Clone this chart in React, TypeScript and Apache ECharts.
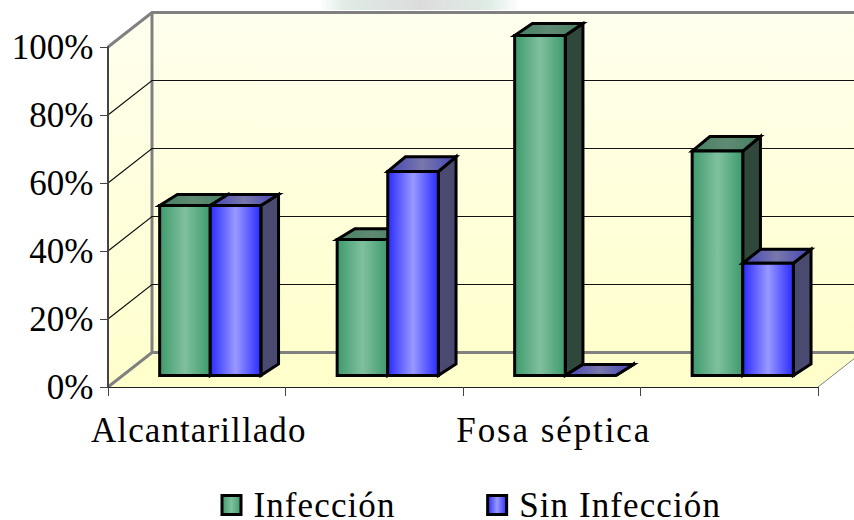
import React, { useEffect, useRef } from "react";
import * as echarts from "echarts";

const categories = ["Alcantarillado", "", "Fosa séptica", ""];
const infeccion = [50, 40, 100, 66];
const sinInfeccion = [50, 60, 0, 33];
const yTicks = [0, 20, 40, 60, 80, 100];
const FONT = "'Liberation Serif', 'Times New Roman', serif";

const hGrad = (edge: string, mid: string) =>
  new echarts.graphic.LinearGradient(0, 0, 1, 0, [
    { offset: 0, color: edge },
    { offset: 0.5, color: mid },
    { offset: 1, color: edge },
  ]);

const WALL_DX = 44;
const WALL_DY = -34.5;
const BAR_SHIFT_X = 13.5;
const BAR_SHIFT_Y = -11.5;
const BAR_DX = 17.7;
const BAR_DY = -11.5;
const BAR_FRAC = 0.285;
const BLACK = "#000";
// The depth of each bar's top face differs slightly per bar in the reference.
const greenTopDepth = [11, 10.7, 12, 14.6];
const blueTopDepth = [11, 14.7, 11, 14];

function wallItem(params: any, api: any) {
  const cs = params.coordSys;
  const v = api.value(0);
  const [, y] = api.coord([0, v]);
  const x0 = cs.x;
  const x1 = cs.x + cs.width;
  const children: any[] = [];
  if (params.dataIndex === 0) {
    const top = cs.y;
    const bottom = cs.y + cs.height;
    const wallFill = new echarts.graphic.LinearGradient(0, 0, 0, 1, [
      { offset: 0, color: "#FFFFEE" },
      { offset: 1, color: "#FFFFCC" },
    ]);
    children.push(
      {
        type: "polygon",
        shape: { points: [[x0, top], [x0 + WALL_DX, top + WALL_DY], [x0 + WALL_DX, bottom + WALL_DY], [x0, bottom]] },
        style: { fill: wallFill },
      },
      {
        type: "rect",
        shape: { x: x0 + WALL_DX, y: top + WALL_DY, width: x1 - x0, height: cs.height },
        style: { fill: wallFill },
      },
      {
        type: "polygon",
        shape: { points: [[x0, bottom], [x0 + WALL_DX, bottom + WALL_DY], [x1 + WALL_DX, bottom + WALL_DY], [x1, bottom]] },
        style: { fill: "#FFFFCC" },
      }
    );
  }
  const edge = v === 0 || v === 100;
  if (!edge) {
    children.push({
      type: "polyline",
      shape: { points: [[x0, y], [x0 + WALL_DX, y + WALL_DY], [x1 + WALL_DX, y + WALL_DY]] },
      style: { fill: "none", stroke: "#111", lineWidth: 1.2 },
    });
  } else {
    children.push({
      type: "polyline",
      shape: { points: [[x0, y], [x0 + WALL_DX, y + WALL_DY], [x1 + WALL_DX, y + WALL_DY]] },
      style: { fill: "none", stroke: "#808080", lineWidth: 3 },
    });
  }
  if (v === 0) {
    children.push({
      type: "line",
      shape: { x1: x1, y1: y, x2: x1 + WALL_DX, y2: y + WALL_DY },
      style: { stroke: "#808080", lineWidth: 1 },
    });
    children.push({
      type: "line",
      shape: { x1: x0 + WALL_DX, y1: cs.y + WALL_DY, x2: x0 + WALL_DX, y2: y + WALL_DY },
      style: { stroke: "#808080", lineWidth: 3 },
    });
  }
  return { type: "group", children };
}

function barItem(side: -1 | 1, front: any, top: any, right: any, topDepth: number[]) {
  return (_params: any, api: any) => {
    const cat = api.value(0);
    const [cx, yTop0] = api.coord([cat, api.value(1)]);
    const [, yBase0] = api.coord([cat, 0]);
    const w = api.size([1, 0])[0] * BAR_FRAC;
    const center = cx + BAR_SHIFT_X;
    const x0 = side < 0 ? center - w : center;
    const x1 = x0 + w;
    const yTop = yTop0 + BAR_SHIFT_Y;
    const yBase = yBase0 + BAR_SHIFT_Y;
    const tb = yTop - topDepth[cat];
    const line = { stroke: BLACK, lineWidth: 3, lineJoin: "miter" as const };
    return {
      type: "group",
      children: [
        {
          type: "polygon",
          shape: { points: [[x1, yTop], [x1 + BAR_DX, tb], [x1 + BAR_DX, yBase + BAR_DY], [x1, yBase]] },
          style: { fill: right, ...line },
        },
        {
          type: "polygon",
          shape: { points: [[x0, yTop], [x0 + BAR_DX, tb], [x1 + BAR_DX, tb], [x1, yTop]] },
          style: { fill: top, ...line },
        },
        {
          type: "rect",
          shape: { x: x0, y: yTop, width: w, height: yBase - yTop },
          style: { fill: front, ...line },
        },
      ],
    };
  };
}

export default function App() {
  const ref = useRef<HTMLDivElement>(null);
  useEffect(() => {
    const chart = echarts.init(ref.current!, undefined, { renderer: "svg" });
    const greenFront = hGrad("#3E9A6C", "#80C09F");
    const greenTop = hGrad("#44805F", "#5F8A74");
    const blueFront = hGrad("#2A2AFF", "#9999FF");
    const blueTop = hGrad("#4444B8", "#7878AA");
    chart.setOption({
      animation: false,
      textStyle: { fontFamily: FONT },
      grid: { left: 108, right: 36, top: 47, height: 340, containLabel: false },
      legend: {
        left: 220.5,
        top: 487.5,
        padding: 0,
        itemWidth: 19,
        itemHeight: 19,
        itemGap: 100.5,
        textStyle: { fontFamily: FONT, fontSize: 35, color: "#000", padding: [0, 0, 0, 7.5] },
        data: [
          { name: "Infección", icon: "rect", itemStyle: { color: hGrad("#3E9A6C", "#80C09F"), borderColor: BLACK, borderWidth: 3 } },
          { name: "Sin Infección", icon: "rect", itemStyle: { color: hGrad("#2A2AFF", "#9999FF"), borderColor: BLACK, borderWidth: 3 } },
        ],
      },
      xAxis: {
        type: "category",
        data: categories,
        z: 5,
        axisLine: { lineStyle: { color: "#222", width: 1 } },
        axisTick: { show: true, length: 9, lineStyle: { color: "#444", width: 1 } },
        axisLabel: { interval: 0, fontFamily: FONT, fontSize: 35, color: "#000", margin: 26, padding: [0, 0, 0, 4] },
      },
      yAxis: {
        type: "value",
        min: 0,
        max: 100,
        interval: 20,
        z: 5,
        axisLine: { show: true, lineStyle: { color: "#444", width: 2 } },
        axisTick: { show: true, length: 8, lineStyle: { color: "#444", width: 1 } },
        splitLine: { show: false },
        axisLabel: { formatter: "{value}%", fontFamily: FONT, fontSize: 35, color: "#000", margin: 14.5, padding: [4.5, 0, 0, 0] },
      },
      graphic: [
        {
          type: "rect",
          z: -1,
          shape: { x: 320, y: 0, width: 200, height: 10 },
          style: {
            fill: new echarts.graphic.LinearGradient(0, 0, 1, 0, [
              { offset: 0, color: "#ffffff" },
              { offset: 0.12, color: "#e0ece6" },
              { offset: 0.5, color: "#dcdcdc" },
              { offset: 0.85, color: "#e0ece6" },
              { offset: 1, color: "#ffffff" },
            ]),
          },
        },
      ],
      series: [
        {
          type: "custom",
          name: "walls",
          silent: true,
          z: 1,
          clip: false,
          renderItem: wallItem,
          encode: { y: 0 },
          data: yTicks.map((t) => [t]),
          coordinateSystem: "cartesian2d",
        },
        {
          type: "custom",
          name: "Infección",
          z: 2,
          clip: false,
          itemStyle: { color: "#80C09F" },
          renderItem: barItem(-1, greenFront, greenTop, "#30483B", greenTopDepth),
          encode: { x: 0, y: 1 },
          data: infeccion.map((v, i) => [i, v]),
        },
        {
          type: "custom",
          name: "Sin Infección",
          z: 3,
          clip: false,
          itemStyle: { color: "#9999FF" },
          renderItem: barItem(1, blueFront, blueTop, "#4A4A70", blueTopDepth),
          encode: { x: 0, y: 1 },
          data: sinInfeccion.map((v, i) => [i, v]),
        },
      ],
    });
    // The reference's category and legend texts are set wider than the font's natural advance.
    ref.current!.querySelectorAll("text").forEach((t) => {
      const s = t.textContent || "";
      if (s.includes("%")) return;
      (t as SVGTextElement).style.letterSpacing = s === categories[2] ? "1.9px" : "1.1px";
    });
    return () => chart.dispose();
  }, []);
  return <div ref={ref} style={{ position: "absolute", left: 0, top: 0, width: 854, height: 520 }} />;
}
